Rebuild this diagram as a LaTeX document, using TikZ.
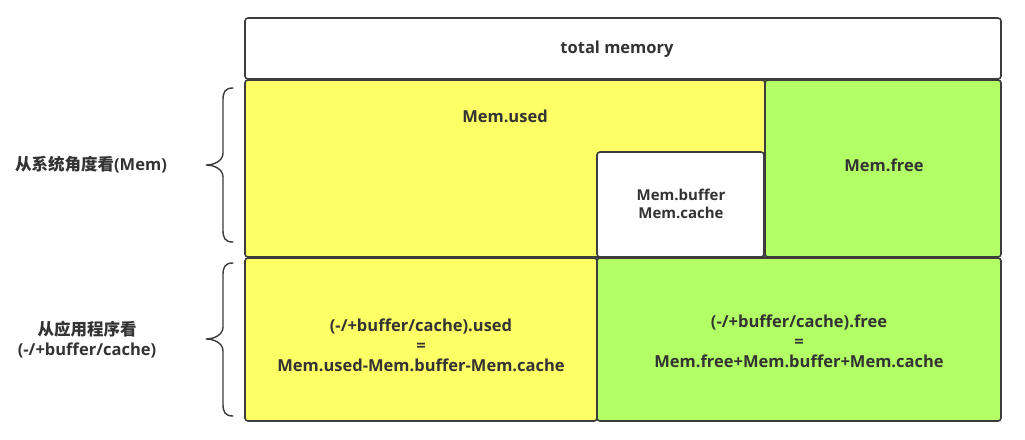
\documentclass[tikz,border=0pt]{standalone}
\usepackage{fontspec}
\setmainfont{Open Sans}
\newfontfamily\cjk{Noto Sans CJK SC}
\definecolor{memyellow}{HTML}{FFFF66}
\definecolor{memgreen}{HTML}{B3FF66}
\definecolor{edge}{HTML}{3C3C3C}
\definecolor{txt}{HTML}{333333}
\tikzset{
  membox/.style={draw=edge, line width=1.6pt, rounded corners=3pt},
  lbl/.style={font=\fontsize{16.5}{20}\selectfont\bfseries, text=txt, align=center, inner sep=0pt},
  smalllbl/.style={lbl, font=\fontsize{15}{18}\selectfont\bfseries},
  brace/.style={draw=edge, line width=1.4pt, line cap=round},
}
\begin{document}
\begin{tikzpicture}[x=1pt,y=-1pt]
\useasboundingbox (0,0) rectangle (1025,439);
% boxes
\draw[membox, fill=white] (245,18) rectangle (1001,79);
\draw[membox, fill=memyellow] (245,80) rectangle (765,257);
\draw[membox, fill=memgreen] (765,80) rectangle (1001,257);
\draw[membox, fill=memyellow] (245,258) rectangle (597,421);
\draw[membox, fill=memgreen] (597,258) rectangle (1001,421);
\draw[membox, fill=white] (597,152) rectangle (764,257);
% labels
\node[lbl] (total) at (617,49) {total memory};
\node[lbl] (used) at (505,116) {Mem.used};
\node[lbl] (free) at (884,165) {Mem.free};
\node[smalllbl] (bc) at (681,204) {Mem.buffer\\Mem.cache};
\node[lbl] (aused) at (421,345) {(-/+buffer/cache).used\\=\\Mem.used-Mem.buffer-Mem.cache};
\node[lbl] (afree) at (799,341) {(-/+buffer/cache).free\\=\\Mem.free+Mem.buffer+Mem.cache};
\node[lbl] (sys) at (91,165) {{\cjk 从系统角度看}(Mem)};
\node[lbl] (app) at (87,340) {{\cjk 从应用程序看}\\(-/+buffer/cache)};
% braces
\draw[brace] (233,88) .. controls (225,88) and (223,92) .. (223,100) -- (223,153)
  .. controls (223,161) and (214,165) .. (206,165)
  .. controls (214,165) and (223,169) .. (223,177) -- (223,230)
  .. controls (223,238) and (225,242) .. (233,242);
\draw[brace] (233,263) .. controls (225,263) and (223,267) .. (223,275) -- (223,327)
  .. controls (223,335) and (214,339) .. (206,339)
  .. controls (214,339) and (223,343) .. (223,351) -- (223,404)
  .. controls (223,412) and (225,416) .. (233,416);
\end{tikzpicture}
\end{document}
